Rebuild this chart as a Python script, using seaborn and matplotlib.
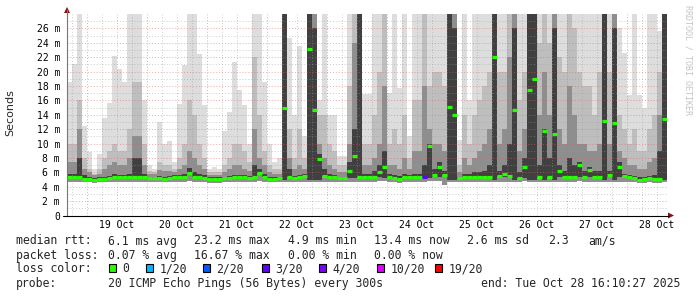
import numpy as np
import pandas as pd
import matplotlib
matplotlib.use("Agg")
import matplotlib.pyplot as plt
import seaborn as sns
from matplotlib.patches import Rectangle, Polygon
from matplotlib.lines import Line2D

# ---------------- data (milliseconds), 2-hour bins, 18 Oct 16:10 -> 28 Oct 16:10 ----------------
rtt_median = [
    5.3, 5.3, 5.3, 5.1, 5.1, 5.0, 5.1, 5.1, 5.2, 5.3, 5.3, 5.3,
    5.3, 5.4, 5.4, 5.4, 5.2, 5.2, 5.2, 5.1, 5.2, 5.3, 5.3, 5.4,
    5.9, 5.3, 5.3, 5.2, 5.1, 5.1, 5.1, 5.2, 5.2, 5.3, 5.3, 5.3,
    5.2, 5.4, 5.9, 5.3, 5.1, 5.1, 5.2, 15.0, 5.4, 5.2, 5.3, 5.5,
    23.2, 14.7, 7.9, 5.5, 5.3, 5.3, 5.2, 5.2, 6.2, 8.3, 5.3, 5.3,
    5.3, 5.4, 6.0, 6.7, 5.3, 5.2, 5.1, 5.3, 5.4, 5.3, 5.3, 5.3,
    9.6, 5.6, 6.7, 5.6, 15.1, 13.9, 5.2, 5.3, 5.3, 5.3, 5.3, 5.3,
    5.4, 22.0, 5.5, 5.8, 5.5, 14.6, 5.2, 6.8, 17.4, 18.9, 5.4, 11.8,
    5.3, 11.3, 6.2, 5.4, 5.3, 5.3, 7.0, 5.3, 6.3, 5.3, 5.3, 13.2,
    5.6, 12.9, 6.8, 5.5, 5.3, 5.2, 5.0, 5.1, 5.2, 5.1, 5.1, 13.4,
]
rtt_min = [
    4.7, 4.7, 4.6, 4.6, 4.6, 4.5, 4.6, 4.6, 4.6, 4.7, 4.7, 4.7,
    4.7, 4.7, 4.7, 4.7, 4.6, 4.6, 4.6, 4.6, 4.6, 4.7, 4.7, 4.7,
    4.8, 4.7, 4.7, 4.6, 4.5, 4.5, 4.5, 4.6, 4.6, 4.7, 4.7, 4.7,
    4.6, 4.7, 4.8, 4.7, 4.6, 4.6, 4.6, 4.7, 4.7, 4.6, 4.7, 4.7,
    4.7, 4.7, 4.7, 4.7, 4.7, 4.7, 4.6, 4.6, 4.7, 4.7, 4.7, 4.7,
    4.7, 4.7, 4.8, 4.8, 4.7, 4.6, 4.5, 4.7, 4.7, 4.7, 4.7, 4.7,
    4.8, 4.8, 4.8, 4.3, 4.7, 4.7, 4.6, 4.7, 4.7, 4.7, 4.7, 4.7,
    4.7, 4.7, 4.7, 4.7, 4.7, 4.7, 4.6, 4.8, 4.7, 4.7, 4.7, 4.7,
    4.7, 4.7, 4.7, 4.7, 4.7, 4.7, 4.8, 4.7, 4.7, 4.7, 4.7, 4.7,
    4.7, 4.7, 4.7, 4.7, 4.6, 4.6, 4.5, 4.5, 4.6, 4.5, 4.5, 4.7,
]
# lower edge of the darkest smoke band
smoke_p40 = [
    5.3, 5.3, 5.3, 5.1, 5.1, 5.0, 5.1, 5.1, 5.2, 5.3, 5.3, 5.3,
    5.3, 5.4, 5.4, 5.4, 5.2, 5.2, 5.2, 5.1, 5.2, 5.3, 5.3, 5.4,
    5.9, 5.3, 5.3, 5.2, 5.1, 5.1, 5.1, 5.2, 5.2, 5.3, 5.3, 5.3,
    5.2, 5.4, 5.9, 5.3, 5.1, 5.1, 5.2, 5.0, 5.4, 5.2, 5.3, 5.5,
    5.0, 5.0, 5.0, 5.5, 5.3, 5.3, 5.2, 5.2, 5.2, 5.2, 5.3, 5.3,
    5.3, 5.4, 5.4, 5.2, 5.3, 5.2, 5.1, 5.3, 5.4, 5.3, 5.3, 5.3,
    5.2, 5.4, 5.3, 5.6, 5.0, 5.0, 5.2, 5.3, 5.3, 5.3, 5.3, 5.3,
    5.4, 5.0, 5.5, 5.4, 5.2, 5.0, 5.2, 5.2, 5.0, 5.0, 5.4, 5.0,
    5.3, 5.0, 5.3, 5.4, 5.3, 5.3, 5.3, 5.3, 5.3, 5.3, 5.3, 5.0,
    5.4, 5.0, 5.3, 5.5, 5.3, 5.2, 5.0, 5.1, 5.2, 5.1, 5.1, 5.0,
]
rtt_max = [
    18.5, 21, 28, 12.5, 8.8, 6.5, 8.5, 13.6, 15.7, 22.2, 20.4, 18.5,
    28, 28, 28, 16, 7, 6.5, 13, 10, 10.3, 7.5, 15.5, 20.9,
    28, 28, 22.5, 15.3, 6.5, 6.8, 6.5, 11.8, 14.4, 21.3, 17.5, 15.3,
    10, 28, 28, 18.5, 10, 7.5, 8, 28, 24.6, 14, 23.6, 11,
    28, 28, 16, 28, 13.9, 13.9, 8.3, 8.3, 28, 28, 28, 16.9,
    16.9, 28, 28, 28, 17, 28, 17.7, 28, 11, 28, 28, 28,
    28, 28, 28, 28, 28, 28, 10.5, 28, 16, 28, 28, 28,
    28, 28, 28, 28, 28, 28, 28, 28, 28, 28, 28, 28,
    28, 28, 28, 28, 28, 28, 28, 28, 28, 28, 28, 28,
    28, 28, 26, 22.6, 16.7, 28, 16.7, 14.9, 28, 28, 25.7, 28,
]
smoke_p90 = [
    10, 10, 16, 8, 6.5, 5.8, 6.5, 8, 9, 10, 9, 9,
    12, 18.5, 18.5, 10, 6.2, 6, 7.5, 7, 7, 6.5, 8, 10,
    16, 14, 10, 8, 6, 6, 6, 7, 8, 10, 10, 9,
    7.5, 22, 14, 9, 7, 6.5, 6.5, 28, 12, 8, 12, 8,
    28, 28, 14, 14, 10, 9, 7, 7, 18, 28, 28, 10,
    10, 14, 20, 28, 10, 12, 10, 14, 8, 16, 16, 28,
    18, 20, 20, 18, 28, 28, 7, 14, 10, 14, 16, 18,
    20, 28, 20, 20, 28, 28, 16, 20, 28, 28, 24, 28,
    24, 28, 22, 20, 28, 26, 20, 18, 18, 14, 20, 28,
    20, 28, 14, 12, 10, 12, 9, 9, 12, 14, 20, 28,
]
smoke_p75 = [
    7.5, 7.5, 12, 6.5, 6, 5.6, 5.8, 6.5, 7, 7.5, 7, 7,
    8, 11, 11, 7, 5.8, 5.7, 6.3, 6.2, 6.2, 6, 6.5, 7,
    9, 8, 7, 6.5, 5.6, 5.6, 5.6, 6, 6.5, 7, 7, 6.5,
    6.2, 12, 8, 7, 6, 5.8, 5.8, 28, 8, 6.5, 7, 6.5,
    28, 28, 10, 8, 7, 6.5, 6, 6, 10, 24, 28, 7,
    7, 8, 10, 18, 7, 7, 6.5, 8, 6.5, 9, 9, 18,
    12, 10, 10, 9, 28, 28, 6, 8, 7, 8, 9, 10,
    12, 28, 10, 12, 22, 28, 9, 12, 28, 28, 14, 20,
    14, 28, 12, 10, 18, 14, 10, 10, 9, 9, 10, 28,
    10, 28, 9, 8, 7, 7, 6.5, 6.5, 7.5, 8, 14, 28,
]
smoke_p60 = [
    5.8, 5.8, 8, 5.6, 5.4, 5.2, 5.3, 5.4, 5.5, 5.7, 5.6, 5.6,
    5.8, 8, 8, 5.8, 5.4, 5.4, 5.5, 5.4, 5.5, 5.6, 5.6, 5.8,
    6.6, 6, 5.8, 5.6, 5.3, 5.3, 5.3, 5.4, 5.5, 5.6, 5.6, 5.6,
    5.5, 7, 6.5, 5.8, 5.4, 5.3, 5.4, 28, 6.5, 5.5, 5.6, 5.8,
    28, 26, 8.5, 6.5, 5.8, 5.6, 5.4, 5.4, 7.5, 12, 28, 5.8,
    5.8, 6.2, 7, 9, 5.8, 5.6, 5.5, 5.8, 5.6, 5.8, 5.8, 7,
    10, 6.5, 7.5, 6.2, 28, 26, 5.4, 5.8, 5.8, 6, 6, 6.2,
    7, 28, 6.2, 7, 10, 26, 6, 8, 28, 28, 7, 12,
    8, 26, 7, 6.2, 8, 7, 7.5, 6.2, 6.8, 6.2, 6.2, 28,
    6.2, 26, 7.5, 5.8, 5.6, 5.5, 5.3, 5.3, 5.5, 5.6, 9, 28,
]
loss_bin = [
    0, 0, 0, 0, 0, 0, 0, 0, 0, 0, 0, 0,
    0, 0, 0, 0, 0, 0, 0, 0, 0, 0, 0, 0,
    0, 0, 0, 0, 0, 0, 0, 0, 0, 0, 0, 0,
    0, 0, 0, 0, 0, 0, 0, 0, 0, 0, 0, 0,
    0, 0, 0, 0, 0, 0, 0, 0, 0, 0, 0, 0,
    0, 0, 0, 0, 0, 0, 0, 0, 0, 0, 0, 3,
    0, 0, 0, 0, 0, 0, 0, 0, 0, 0, 0, 0,
    0, 0, 0, 0, 0, 0, 0, 0, 0, 0, 0, 0,
    0, 0, 0, 0, 0, 0, 0, 0, 0, 0, 0, 0,
    0, 0, 0, 0, 0, 0, 0, 0, 0, 0, 0, 0,
]
day_labels = ["19 Oct", "20 Oct", "21 Oct", "22 Oct", "23 Oct",
              "24 Oct", "25 Oct", "26 Oct", "27 Oct", "28 Oct"]
ytick_vals = [0, 2, 4, 6, 8, 10, 12, 14, 16, 18, 20, 22, 24, 26]
ytick_labels = ["0", "2 m", "4 m", "6 m", "8 m", "10 m", "12 m", "14 m",
                "16 m", "18 m", "20 m", "22 m", "24 m", "26 m"]
loss_levels = [0, 1, 2, 3, 4, 10, 19]
loss_names = ["0", "1/20", "2/20", "3/20", "4/20", "10/20", "19/20"]
loss_colors = ["#26ff00", "#00b8ff", "#0059ff", "#5e00ff", "#7e00ff", "#dd00ff", "#ff0000"]

stats_rtt = ["6.1 ms avg", "23.2 ms max", "4.9 ms min", "13.4 ms now", "2.6 ms sd", "2.3", "am/s"]
stats_loss = ["0.07 % avg", "16.67 % max", "0.00 % min", "0.00 % now"]
probe_text = "20 ICMP Echo Pings (56 Bytes) every 300s"
end_text = "end: Tue Oct 28 16:10:27 2025"

# ---------------- figure ----------------
sns.set_theme(style="white")
plt.rcParams["font.family"] = ["DejaVu Sans Mono", "DejaVu Sans"]

W, H = 697, 297
fig = plt.figure(figsize=(W / 100, H / 100), dpi=100)
fig.patch.set_facecolor("white")


def P(x, y):
    return (x / W, 1 - y / H)


ax = fig.add_axes([67 / W, (H - 215.5) / H, 600 / W, 201.5 / H])
ax.set_facecolor("white")

t0 = pd.Timestamp("2025-10-18 16:10:27")
t_end = pd.Timestamp("2025-10-28 16:10:27")
edges = pd.date_range(t0, periods=len(rtt_median) + 1, freq="2h").to_pydatetime()


def ext(a):
    return list(a) + [a[-1]]


for low, top, col in [(rtt_min, rtt_max, "#dddddd"), (rtt_min, smoke_p90, "#bebebe"),
                      (rtt_min, smoke_p75, "#8e8e8e"), (smoke_p40, smoke_p60, "#404040")]:
    ax.fill_between(edges, ext(low), ext(top), step="post",
                    color=col, lw=0, zorder=1)

# grid (drawn over the smoke like rrdtool)
for v in range(1, 28):
    if v % 2 == 0:
        ax.axhline(v, color="#e06060", alpha=0.55, lw=0.7, ls=(0, (1, 2)), zorder=2)
    else:
        ax.axhline(v, color="#9a9a9a", alpha=0.5, lw=0.7, ls=(0, (1, 2)), zorder=2)
for t in pd.date_range("2025-10-18 18:00", t_end, freq="6h"):
    if t.hour == 0:
        ax.axvline(t, color="#e06060", alpha=0.55, lw=0.7, ls=(0, (1, 2)), zorder=2)
    else:
        ax.axvline(t, color="#9a9a9a", alpha=0.5, lw=0.7, ls=(0, (1, 2)), zorder=2)

# median line coloured by loss
rows = []
for i, (m, l) in enumerate(zip(rtt_median, loss_bin)):
    rows.append((edges[i], m, i, l))
    rows.append((edges[i + 1], m, i, l))
df = pd.DataFrame(rows, columns=["time", "rtt", "seg", "loss"])
pal = {lv: c for lv, c in zip(loss_levels, loss_colors) if lv in set(loss_bin)}
sns.lineplot(data=df, x="time", y="rtt", units="seg", estimator=None, hue="loss",
             palette=pal, legend=False, linewidth=2.3, ax=ax, zorder=4,
             solid_capstyle="butt")

ax.set_xlim(t0, t_end)
ax.set_ylim(0, 28)
ax.set_yticks(ytick_vals)
ax.set_yticklabels(ytick_labels)
noons = pd.date_range("2025-10-19 12:00", periods=len(day_labels), freq="D").to_pydatetime()
ax.set_xticks(noons)
ax.set_xticklabels(day_labels)
ax.tick_params(axis="both", length=0, labelsize=7, colors="black")
ax.tick_params(axis="y", pad=5)
ax.tick_params(axis="x", pad=3)
ax.set_xlabel("")
ax.set_ylabel("")
for s in ax.spines.values():
    s.set_visible(False)
ax.grid(False)

# axis lines and arrows
fig.add_artist(Line2D(*zip(P(67, 216), P(67, 10)), transform=fig.transFigure,
                      color="#777777", lw=0.8))
fig.add_artist(Line2D(*zip(P(63, 215.5), P(669, 215.5)), transform=fig.transFigure,
                      color="black", lw=0.8))
fig.add_artist(Polygon([P(64, 13), P(70, 13), P(67, 7)], closed=True,
                       transform=fig.transFigure, color="#8b1010", lw=0))
fig.add_artist(Polygon([P(668, 212.5), P(668, 218.5), P(674, 215.5)], closed=True,
                       transform=fig.transFigure, color="#8b1010", lw=0))

# unit label and watermark
fig.text(*P(10, 113), "Seconds", rotation=90, ha="center", va="center",
         fontsize=8, family=["DejaVu Sans"])
fig.text(*P(688, 5), "RRDTOOL / TOBI OETIKER", rotation=270, ha="center", va="top",
         fontsize=6, color="#c4c4c4")

# legend block
lf = 8.3
cols = [108, 194, 288, 374, 467, 548, 588]
y1, y2, y3, y4 = 241, 255.5, 268.5, 283.5
fig.text(*P(16, y1), "median rtt:", fontsize=lf, va="center")
for x, s in zip(cols, stats_rtt):
    fig.text(*P(x, y1), s, fontsize=lf, va="center")
fig.text(*P(16, y2), "packet loss:", fontsize=lf, va="center")
for x, s in zip(cols, stats_loss):
    fig.text(*P(x, y2), s, fontsize=lf, va="center")
fig.text(*P(16, y3), "loss color:", fontsize=lf, va="center")
box_x = [109, 146, 203, 262, 319, 377, 435]
for bx, name, c in zip(box_x, loss_names, loss_colors):
    fig.add_artist(Rectangle(P(bx, 272), 7 / W, 8 / H, transform=fig.transFigure,
                             facecolor=c, edgecolor="black", lw=0.8))
    fig.text(*P(bx + 13.5, y3), name, fontsize=lf, va="center")
fig.text(*P(16, y4), "probe:", fontsize=lf, va="center")
fig.text(*P(108, y4), probe_text, fontsize=lf, va="center")
fig.text(*P(481, y4), end_text, fontsize=lf, va="center")

fig.savefig("out.png", dpi=100, facecolor="white")
